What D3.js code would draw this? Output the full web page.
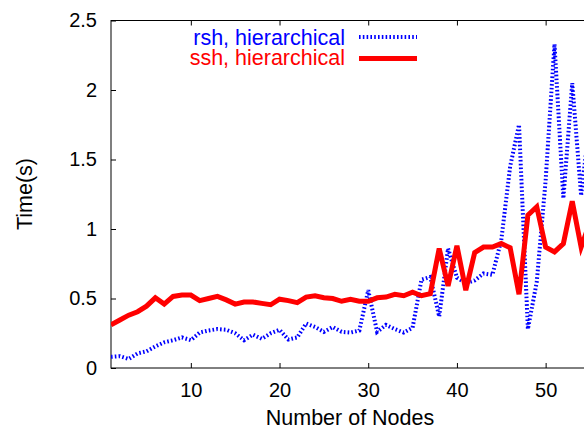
<!DOCTYPE html>
<html>
<head>
<meta charset="utf-8">
<script src="https://cdnjs.cloudflare.com/ajax/libs/d3/7.8.5/d3.min.js"></script>
<style>
  body { margin: 0; background: #fff; }
  svg { display: block; font-family: "Liberation Sans", Arial, sans-serif; }
  .axis text { font-size: 20px; fill: #000; }
  .axis line { stroke: #000; }
  .axis path { display: none; }
</style>
</head>
<body>
<div id="chart"></div>
<script>
// number of nodes on the x axis
var nodes = d3.range(1, 56);

// time in seconds, rsh hierarchical
var rshTimes = [0.08, 0.085, 0.065, 0.105, 0.12, 0.155, 0.185, 0.2, 0.22, 0.2,
  0.255, 0.27, 0.28, 0.275, 0.25, 0.2, 0.24, 0.21, 0.25, 0.275,
  0.205, 0.22, 0.32, 0.295, 0.26, 0.295, 0.26, 0.255, 0.27, 0.56,
  0.26, 0.31, 0.28, 0.255, 0.29, 0.635, 0.655, 0.37, 0.86, 0.65,
  0.61, 0.63, 0.68, 0.67, 0.92, 1.45, 1.75, 0.28, 0.62, 1.35,
  2.33, 1.22, 2.05, 1.24, 1.8];

// time in seconds, ssh hierarchical
var sshTimes = [0.31, 0.345, 0.38, 0.405, 0.445, 0.505, 0.46, 0.515, 0.525, 0.525,
  0.485, 0.5, 0.515, 0.49, 0.46, 0.475, 0.475, 0.465, 0.455, 0.495,
  0.485, 0.47, 0.51, 0.52, 0.505, 0.5, 0.48, 0.495, 0.48, 0.48,
  0.505, 0.51, 0.53, 0.52, 0.545, 0.52, 0.535, 0.86, 0.59, 0.88,
  0.56, 0.83, 0.87, 0.87, 0.895, 0.865, 0.53, 1.1, 1.16, 0.87,
  0.835, 0.895, 1.2, 0.87, 1.05];

var xTicks = [10, 20, 30, 40, 50];
var yTicks = [0, 0.5, 1, 1.5, 2, 2.5];

var seriesNames = ["rsh, hierarchical", "ssh, hierarchical"];

var width = 584, height = 433;
var plotLeft = 111, plotTop = 20.5, plotBottom = 368;

var svg = d3.select("#chart").append("svg")
  .attr("width", width)
  .attr("height", height);

// x axis runs past the right edge of the picture
var x = d3.scaleLinear()
  .domain([1, 64])
  .range([plotLeft, plotLeft + 63 * 8.87]);

var y = d3.scaleLinear()
  .domain([0, 2.5])
  .range([plotBottom, plotTop]);

svg.append("clipPath")
  .attr("id", "plot-clip")
  .append("rect")
  .attr("x", plotLeft)
  .attr("y", plotTop)
  .attr("width", x.range()[1] - plotLeft)
  .attr("height", plotBottom - plotTop);

// Axes (gnuplot style, ticks pointing in)
svg.append("g")
  .attr("class", "axis x-axis")
  .attr("transform", "translate(0," + plotBottom + ")")
  .call(d3.axisBottom(x).tickValues(xTicks).tickSizeInner(-5).tickSizeOuter(0).tickPadding(15));

svg.append("g")
  .attr("class", "axis x-axis-top")
  .attr("transform", "translate(0," + plotTop + ")")
  .call(d3.axisTop(x).tickValues(xTicks).tickSizeInner(-5).tickSizeOuter(0).tickFormat(""));

svg.append("g")
  .attr("class", "axis y-axis")
  .attr("transform", "translate(" + plotLeft + ",0)")
  .call(d3.axisLeft(y).tickValues(yTicks).tickSizeInner(-5).tickSizeOuter(0).tickPadding(14)
    .tickFormat(function(d){ return d; }));

// border
svg.append("rect")
  .attr("x", plotLeft)
  .attr("y", plotTop)
  .attr("width", x.range()[1] - plotLeft)
  .attr("height", plotBottom - plotTop)
  .attr("fill", "none")
  .attr("stroke", "#000")
  .attr("stroke-width", 1);

// Axis titles
svg.append("text")
  .attr("x", 350)
  .attr("y", 425)
  .attr("text-anchor", "middle")
  .style("font-size", "21.5px")
  .text("Number of Nodes");

svg.append("text")
  .attr("transform", "translate(32,194) rotate(-90)")
  .attr("text-anchor", "middle")
  .style("font-size", "21.5px")
  .text("Time(s)");

// Lines
var line = d3.line()
  .x(function(d){ return x(d.node); })
  .y(function(d){ return y(d.value); });

var rshData = nodes.map(function(n, i){ return {node: n, value: rshTimes[i]}; });
var sshData = nodes.map(function(n, i){ return {node: n, value: sshTimes[i]}; });

var plot = svg.append("g").attr("clip-path", "url(#plot-clip)");

plot.append("path")
  .datum(rshData)
  .attr("d", line)
  .attr("fill", "none")
  .attr("stroke", "#0000ff")
  .attr("stroke-width", 4)
  .attr("stroke-dasharray", "1.6,2.2")
  .attr("stroke-linejoin", "miter");

plot.append("path")
  .datum(sshData)
  .attr("d", line)
  .attr("fill", "none")
  .attr("stroke", "#ff0000")
  .attr("stroke-width", 5)
  .attr("stroke-linejoin", "miter");

// Legend
var legend = svg.append("g").attr("class", "legend");

legend.append("text")
  .attr("x", 345)
  .attr("y", 45)
  .attr("text-anchor", "end")
  .attr("fill", "#0000ff")
  .style("font-size", "21.5px")
  .text(seriesNames[0]);

legend.append("line")
  .attr("x1", 359).attr("x2", 417)
  .attr("y1", 37).attr("y2", 37)
  .attr("stroke", "#0000ff")
  .attr("stroke-width", 4)
  .attr("stroke-dasharray", "1.6,2.2");

legend.append("text")
  .attr("x", 345)
  .attr("y", 65)
  .attr("text-anchor", "end")
  .attr("fill", "#ff0000")
  .style("font-size", "21.5px")
  .text(seriesNames[1]);

legend.append("line")
  .attr("x1", 359).attr("x2", 417)
  .attr("y1", 58.5).attr("y2", 58.5)
  .attr("stroke", "#ff0000")
  .attr("stroke-width", 5);
</script>
</body>
</html>
